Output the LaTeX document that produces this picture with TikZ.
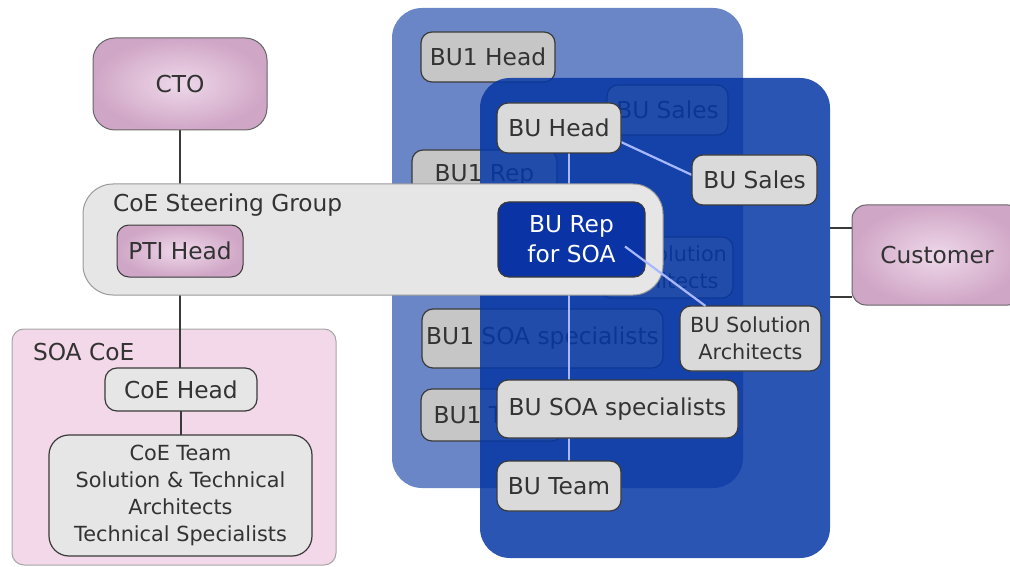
\documentclass[tikz,border=0pt]{standalone}
\usepackage{fontspec}
\setmainfont{DejaVu Sans}
\usetikzlibrary{calc}
\definecolor{txt}{HTML}{333333}
\definecolor{pinkin}{HTML}{EED8EA}
\definecolor{pinkout}{HTML}{D0A6C6}
\definecolor{pinkbg}{HTML}{F2D8E8}
\definecolor{lgray}{HTML}{E6E6E6}
\definecolor{ngray}{HTML}{DADADA}
\definecolor{bgray}{HTML}{C6C6C6}
\definecolor{backblue}{HTML}{6A86C6}
\definecolor{frontblue}{RGB}{5,55,165}
\definecolor{repblue}{HTML}{0A33A6}
\definecolor{linkblue}{HTML}{A8B8FF}
\definecolor{edge}{HTML}{3A3A3A}
\newcommand\bigf{\fontsize{23.3}{30}\selectfont}
\newcommand\smallf{\fontsize{20.8}{27}\selectfont}
\pgfdeclarelayer{bg}
\pgfdeclarelayer{wires}
\pgfdeclarelayer{fg}
\pgfdeclarelayer{top}
\pgfsetlayers{bg,wires,main,fg,top}
\tikzset{
  base/.style={inner sep=0pt, outer sep=0pt, text=txt, font=\bigf, align=center},
  sz/.style 2 args={minimum width=#1pt, minimum height=#2pt},
  gnode/.style={base, draw=edge, line width=1.2pt, fill=ngray, rounded corners=11pt},
  bnode/.style={gnode, fill=bgray},
  pnode/.style={base, draw=black!60, line width=1pt, rounded corners=14pt, inner color=pinkin, outer color=pinkout},
  container/.style={base, rounded corners=30pt},
  wire/.style={draw=edge, line width=1.8pt},
  bwire/.style={draw=linkblue, line width=2.2pt},
  lbl/.style={base, anchor=west},
}
\begin{document}
\begin{tikzpicture}[x=1pt,y=-1pt]
\useasboundingbox (0,0) rectangle (1010,567);
\begin{pgfonlayer}{bg}
  \node[base, draw=black!35, line width=1pt, fill=pinkbg, rounded corners=12pt, sz={324}{236}] (soacoe) at (174,447) {};
  \node[container, fill=backblue, sz={351}{480}] (back) at (567.5,248) {};
  \node[bnode, sz={134}{50}] (bu1head) at (488,57) {BU1 Head};
  \node[bnode, sz={145}{50}] (bu1rep) at (484.5,175) {BU1 Rep};
  \node[bnode, sz={121}{50}] (bu1sales) at (667.5,110) {BU Sales};
  \node[bnode, font=\smallf, sz={133}{61}] (bu1sa) at (666.5,267.5) {BU Solution\\Architects};
  \node[bnode, sz={241}{59}] (bu1soa) at (542.5,338.5) {BU1 SOA specialists};
  \node[bnode, sz={142}{52}] (bu1team) at (492,415) {BU1 Team};
  \node[container, fill=frontblue, fill opacity=0.85, sz={350}{480}] (front) at (655,318) {};
\end{pgfonlayer}
% main layer nodes
\node[pnode, rounded corners=22pt, sz={174}{92}] (cto) at (180,84) {CTO};
\node[lbl] (soacoel) at (33,352) {SOA CoE};
\node[gnode, fill=lgray, rounded corners=12pt, sz={152}{43}] (coehead) at (181,389.5) {CoE Head};
\node[gnode, fill=lgray, rounded corners=20pt, font=\smallf, sz={263}{121}] (coeteam) at (180.5,495.5) {CoE Team\\Solution \& Technical\\Architects\\Technical Specialists};
\node[pnode, sz={170}{100}] (cust) at (937,255) {Customer};
\node[gnode, sz={124}{50}] (buhead) at (559,128) {BU Head};
\node[gnode, sz={125}{50}] (busales) at (754.5,180) {BU Sales};
\node[gnode, font=\smallf, sz={141}{65}] (busa) at (750.5,338.5) {BU Solution\\Architects};
\node[gnode, sz={241}{58}] (busoa) at (617.5,409) {BU SOA specialists};
\node[gnode, sz={124}{50}] (buteam) at (559,486) {BU Team};
\begin{pgfonlayer}{wires}
  \draw[wire] (cto.south) -- (cto.south |- coehead.north);
  \draw[wire] (coehead.south) -- (coehead.south |- coeteam.north);
  \draw[wire] ([yshift=27pt]cust.west) -- ([yshift=27pt]cust.west -| front.east);
  \draw[wire] ([yshift=-42pt]cust.west) -- ([yshift=-42pt]cust.west -| front.east);
  \draw[bwire] ([yshift=-14pt]buhead.east) -- ([yshift=5pt]busales.west);
  \draw[bwire] ([xshift=10pt]buhead.south) -- ([xshift=10pt]buhead.south |- busoa.north);
  \draw[bwire] ([xshift=10pt]buteam.north) -- ([xshift=10pt]buteam.north |- busoa.south);
\end{pgfonlayer}
\begin{pgfonlayer}{fg}
  \node[base, draw=black!40, line width=1pt, fill=lgray, rounded corners=30pt, sz={580}{111}] (steer) at (373,239.5) {};
  \node[lbl] (steerl) at (113,205) {CoE Steering Group};
  \node[pnode, draw=edge, rounded corners=12pt, sz={126}{52}] (pti) at (180,251) {PTI Head};
\end{pgfonlayer}
\begin{pgfonlayer}{top}
  \node[gnode, fill=repblue, text=white, sz={147}{75}] (burep) at (571.5,239.5) {BU Rep\\for SOA};
  \draw[bwire] ([xshift=-20pt,yshift=-7pt]burep.east) -- ([xshift=-45pt]busa.north);
\end{pgfonlayer}
\end{tikzpicture}
\end{document}
